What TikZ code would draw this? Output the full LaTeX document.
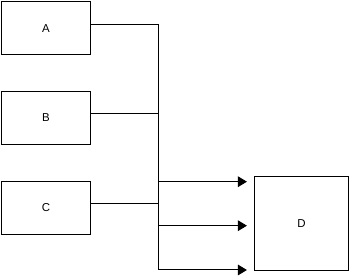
\documentclass[tikz,border=0pt]{standalone}
\usepackage{fontspec}
\setmainfont{Liberation Sans}
\usepackage{tikz}
\usetikzlibrary{arrows.meta,positioning,calc}

\begin{document}
\begin{tikzpicture}[x=0.75pt, y=-0.75pt,
    box/.style={rectangle, draw=black, line width=0.75pt, fill=white, text centered, minimum width=66.75pt, minimum height=40pt, inner sep=0pt, font=\fontsize{8.6}{10}\selectfont},
    bigbox/.style={box, minimum width=70.5pt, minimum height=70.5pt},
    wire/.style={draw=black, line width=0.75pt},
    line/.style={wire, -{Triangle[length=6.75pt, width=8pt]}, shorten >=5.25pt}
]
\useasboundingbox (0,0) rectangle (350,277);

% Nodes
\node[box] (A) at (46,28.3) {A};
\node[box] (B) at (46,118) {B};
\node[box] (C) at (46,208) {C};
\node[bigbox] (D) at (301.4,223.2) {D};

\coordinate (aOut) at ($(A.east)+(0,-4)$);
\coordinate (bOut) at ($(B.east)+(0,-4.7)$);
\coordinate (cOut) at ($(C.east)+(0,-4.7)$);
\coordinate (j1) at (158.3,181.7);
\coordinate (j2) at (158.3,225.7);
\coordinate (j3) at (158.3,270);

% Connections
\draw[wire] (aOut) -| (j3);
\draw[wire] (bOut) -- (bOut -| j3);
\draw[wire] (cOut) -- (cOut -| j3);
\draw[line] (j1) -- (j1 -| D.west);
\draw[line] (j2) -- (j2 -| D.west);
\draw[line] (j3) -- (j3 -| D.west);

\end{tikzpicture}
\end{document}
